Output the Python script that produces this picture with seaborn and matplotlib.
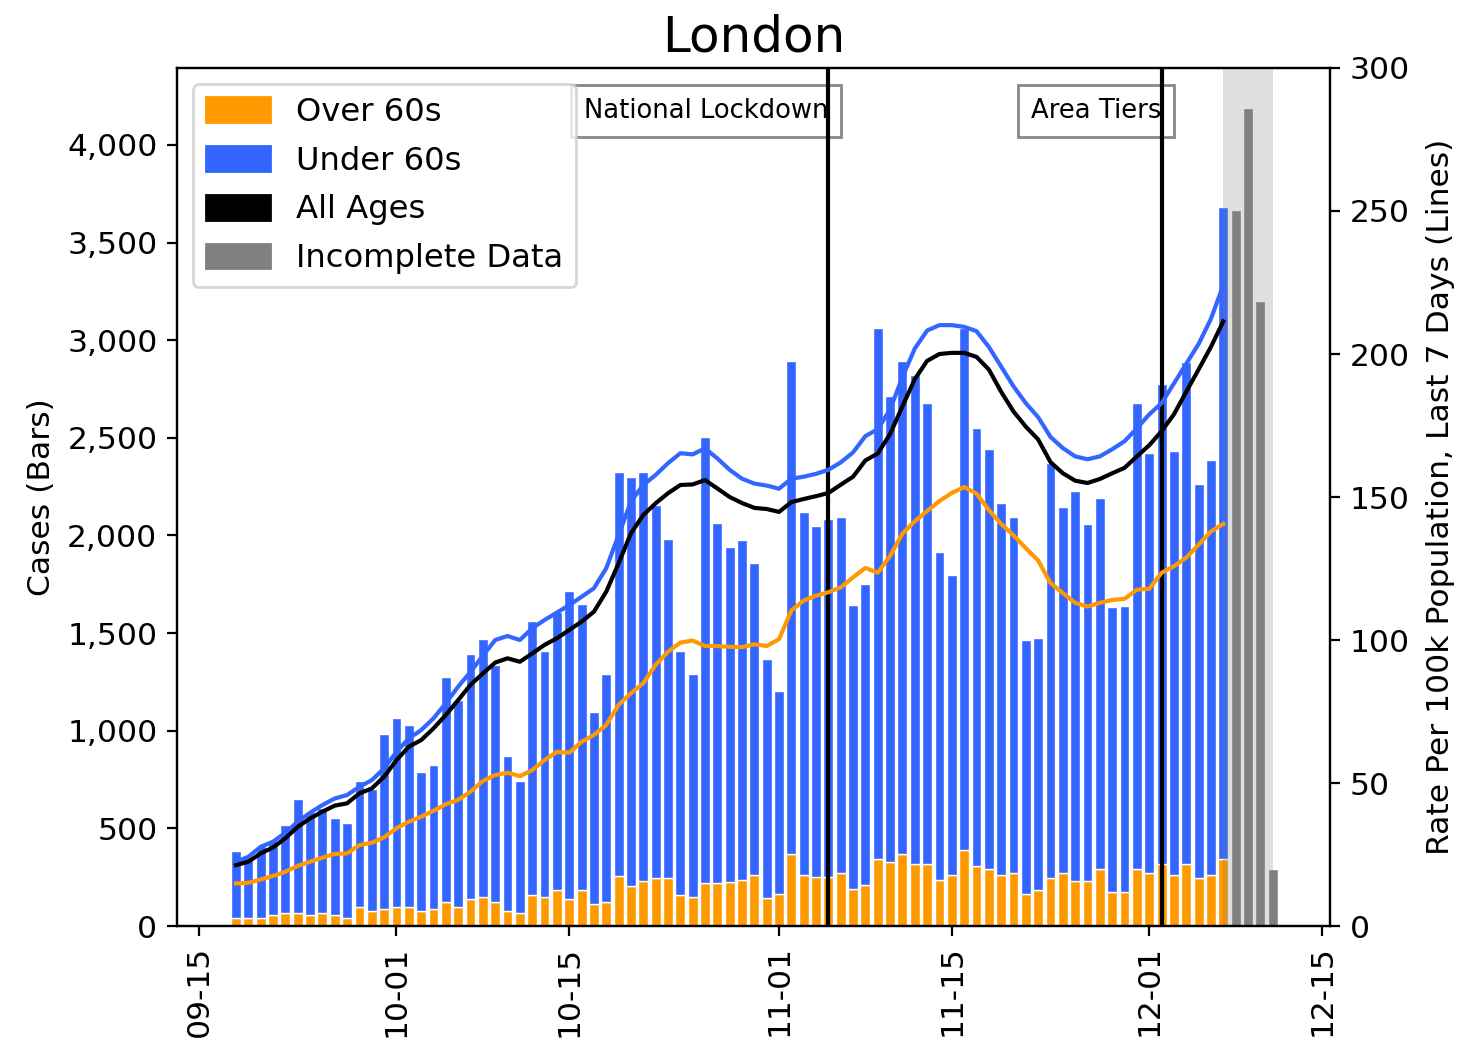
# London cases by age band - stacked daily bars + 7 day rate lines
import pandas as pd
import matplotlib
matplotlib.use('Agg')
import matplotlib.pyplot as plt
import matplotlib.dates as mdates
import matplotlib.ticker as mticker
from matplotlib.patches import Patch
import seaborn as sns

# daily data, 2020-09-18 .. 2020-12-07
start_date = '2020-09-18'

total_cases = [386, 355, 410, 437, 517, 650, 585, 603, 555, 529,
               744, 701, 983, 1064, 1029, 790, 826, 1277, 1160, 1395,
               1468, 1337, 872, 744, 1562, 1410, 1606, 1718, 1647, 1098,
               1291, 2324, 2298, 2324, 2156, 1980, 1410, 1291, 2503, 2062,
               1943, 1975, 1859, 1368, 1202, 2894, 2121, 2048, 2084, 2094,
               1643, 1751, 3061, 2714, 2894, 2822, 2680, 1917, 1798, 3060,
               2548, 2442, 2165, 2093, 1463, 1474, 2370, 2146, 2226, 2059,
               2194, 1633, 1641, 2680, 2420, 2775, 2431, 2890, 2264, 2385,
               3680]

over60_cases = [43, 43, 43, 55, 65, 65, 55, 65, 55, 43,
                99, 78, 88, 99, 99, 78, 88, 125, 99, 137,
                147, 125, 77, 65, 159, 147, 184, 137, 184, 113,
                125, 256, 206, 230, 244, 244, 159, 147, 219, 219,
                226, 237, 260, 141, 166, 368, 262, 249, 249, 274,
                191, 212, 343, 330, 368, 320, 320, 237, 260, 389,
                308, 293, 259, 270, 163, 186, 244, 270, 230, 230,
                293, 172, 172, 293, 270, 316, 259, 316, 244, 259,
                345]

# rate per 100k, last 7 days
rate_all = [21.3, 22.5, 25.4, 27.5, 30.7, 34.7, 37.6, 40.0, 42.1, 42.9,
            46.4, 48.1, 52.2, 58.0, 62.7, 65.0, 69.1, 73.8, 79.0, 84.3,
            88.3, 92.1, 93.6, 92.4, 95.3, 98.3, 100.6, 103.5, 106.4, 109.9,
            116.9, 126.8, 137.3, 143.7, 147.8, 151.3, 154.2, 154.4, 155.9, 153.0,
            150.0, 147.9, 146.2, 145.8, 144.8, 148.2, 149.3, 150.3, 151.4, 154.3,
            157.1, 162.8, 165.2, 172.0, 181.7, 191.2, 197.6, 200.0, 200.4, 200.4,
            199.0, 194.6, 186.8, 179.9, 174.6, 170.1, 162.2, 158.3, 155.7, 154.9,
            156.3, 158.3, 160.2, 164.2, 168.1, 173.0, 178.9, 186.8, 194.6, 202.5,
            211.4]

rate_under60 = [22.5, 24.2, 27.7, 29.5, 32.6, 36.5, 39.6, 42.3, 44.6, 45.8,
                48.7, 51.0, 55.1, 60.9, 65.6, 68.5, 72.6, 77.9, 83.7, 88.9,
                94.5, 100.0, 101.4, 100.0, 104.1, 107.0, 109.6, 112.2, 115.1, 118.1,
                125.1, 136.7, 148.4, 154.2, 157.7, 161.8, 165.3, 164.9, 167.0, 163.5,
                159.5, 156.4, 154.7, 154.0, 152.9, 156.4, 157.1, 158.1, 159.5, 162.1,
                165.6, 171.3, 173.7, 180.6, 191.9, 201.9, 208.2, 210.1, 210.1, 209.5,
                208.0, 202.5, 195.6, 188.7, 182.8, 177.9, 171.0, 167.1, 164.2, 163.2,
                164.2, 166.7, 169.5, 174.0, 178.9, 182.8, 189.7, 196.6, 203.5, 212.3,
                224.1]

rate_over60 = [14.9, 15.1, 16.3, 17.5, 19.0, 21.0, 22.5, 23.9, 25.2, 25.4,
               28.3, 29.1, 31.0, 34.2, 36.5, 38.2, 40.3, 42.6, 44.1, 47.0,
               50.7, 52.8, 53.6, 52.4, 54.5, 58.0, 60.9, 60.6, 64.4, 66.8,
               70.3, 77.3, 81.4, 84.9, 91.3, 95.9, 99.1, 99.8, 97.9, 97.9,
               97.6, 97.5, 98.5, 97.9, 100.3, 110.3, 113.8, 115.5, 116.7, 118.4,
               121.9, 125.2, 123.5, 129.4, 137.2, 141.5, 145.1, 148.6, 151.4, 153.5,
               151.2, 145.5, 140.6, 136.6, 132.1, 127.8, 119.9, 116.4, 113.0, 111.7,
               113.0, 114.0, 114.4, 117.6, 117.9, 123.5, 125.8, 128.8, 133.3, 138.0,
               140.6]

# incomplete days at the end
incomplete_start = '2020-12-08'
incomplete_cases = [3666, 4191, 3203, 293]

events = ['National Lockdown', 'Area Tiers']
event_dates = ['2020-11-05', '2020-12-02']

orange = '#ff9900'
blue = '#3366ff'

dates = pd.date_range(start_date, periods=len(total_cases), freq='D')
inc_dates = pd.date_range(incomplete_start, periods=len(incomplete_cases), freq='D')
under60_cases = [t - o for t, o in zip(total_cases, over60_cases)]

df = pd.DataFrame({'date': dates, 'All Ages': rate_all,
                   'Under 60s': rate_under60, 'Over 60s': rate_over60})
df_long = df.melt(id_vars='date', var_name='group', value_name='rate')

plt.rcParams['font.size'] = 11.3

fig, ax = plt.subplots(figsize=(7.31, 5.23), dpi=200)
fig.subplots_adjust(left=0.121, right=0.9097, bottom=0.1147, top=0.935)

# bars (left axis)
ax.bar(dates, over60_cases, width=0.8, color=orange, edgecolor='white', linewidth=0.5)
ax.bar(dates, under60_cases, bottom=over60_cases, width=0.8, color=blue,
       edgecolor='white', linewidth=0.5)
ax.bar(inc_dates, incomplete_cases, width=0.8, color='gray', edgecolor='white', linewidth=0.5)
ax.axvspan(dates[-1], inc_dates[-1], color='gray', alpha=0.25, lw=0, zorder=3)

for name, d in zip(events, event_dates):
    ax.axvline(pd.Timestamp(d), color='black', lw=1.5, zorder=4)
    ax.text(pd.Timestamp(d), 0.95, name, transform=ax.get_xaxis_transform(),
            ha='right', va='center', fontsize=9.3, zorder=1,
            bbox=dict(boxstyle='square,pad=0.5', fc='white', ec='#888888', lw=1))

ax.set_ylim(0, 4394)
ax.yaxis.set_major_locator(mticker.MultipleLocator(500))
ax.yaxis.set_major_formatter(mticker.StrMethodFormatter('{x:,.0f}'))
ax.set_ylabel('Cases (Bars)')

# lines (right axis)
ax2 = ax.twinx()
sns.lineplot(data=df_long, x='date', y='rate', hue='group', ax=ax2,
             palette={'Under 60s': blue, 'All Ages': 'black', 'Over 60s': orange},
             hue_order=['Under 60s', 'All Ages', 'Over 60s'], linewidth=1.5, legend=False)
ax2.set_ylim(0, 300)
ax2.yaxis.set_major_locator(mticker.MultipleLocator(50))
ax2.set_ylabel('Rate Per 100k Population, Last 7 Days (Lines)', labelpad=6)
ax2.set_xlabel('')

ax.set_xlim(pd.Timestamp('2020-09-13 05:00'), pd.Timestamp('2020-12-15 15:30'))
ax.xaxis.set_major_locator(mdates.DayLocator(bymonthday=[1, 15]))
ax.xaxis.set_major_formatter(mdates.DateFormatter('%m-%d'))
plt.setp(ax.get_xticklabels(), rotation=90)
ax.set_xlabel('')

handles = [Patch(color=orange, label='Over 60s'), Patch(color=blue, label='Under 60s'),
           Patch(color='black', label='All Ages'), Patch(color='gray', label='Incomplete Data')]
ax2.legend(handles=handles, loc='upper left', fontsize=11.6,
           labelspacing=0.55, handleheight=0.8, handletextpad=0.8)

ax.set_title('London', fontsize=18)

plt.savefig('out.png', dpi=200)
